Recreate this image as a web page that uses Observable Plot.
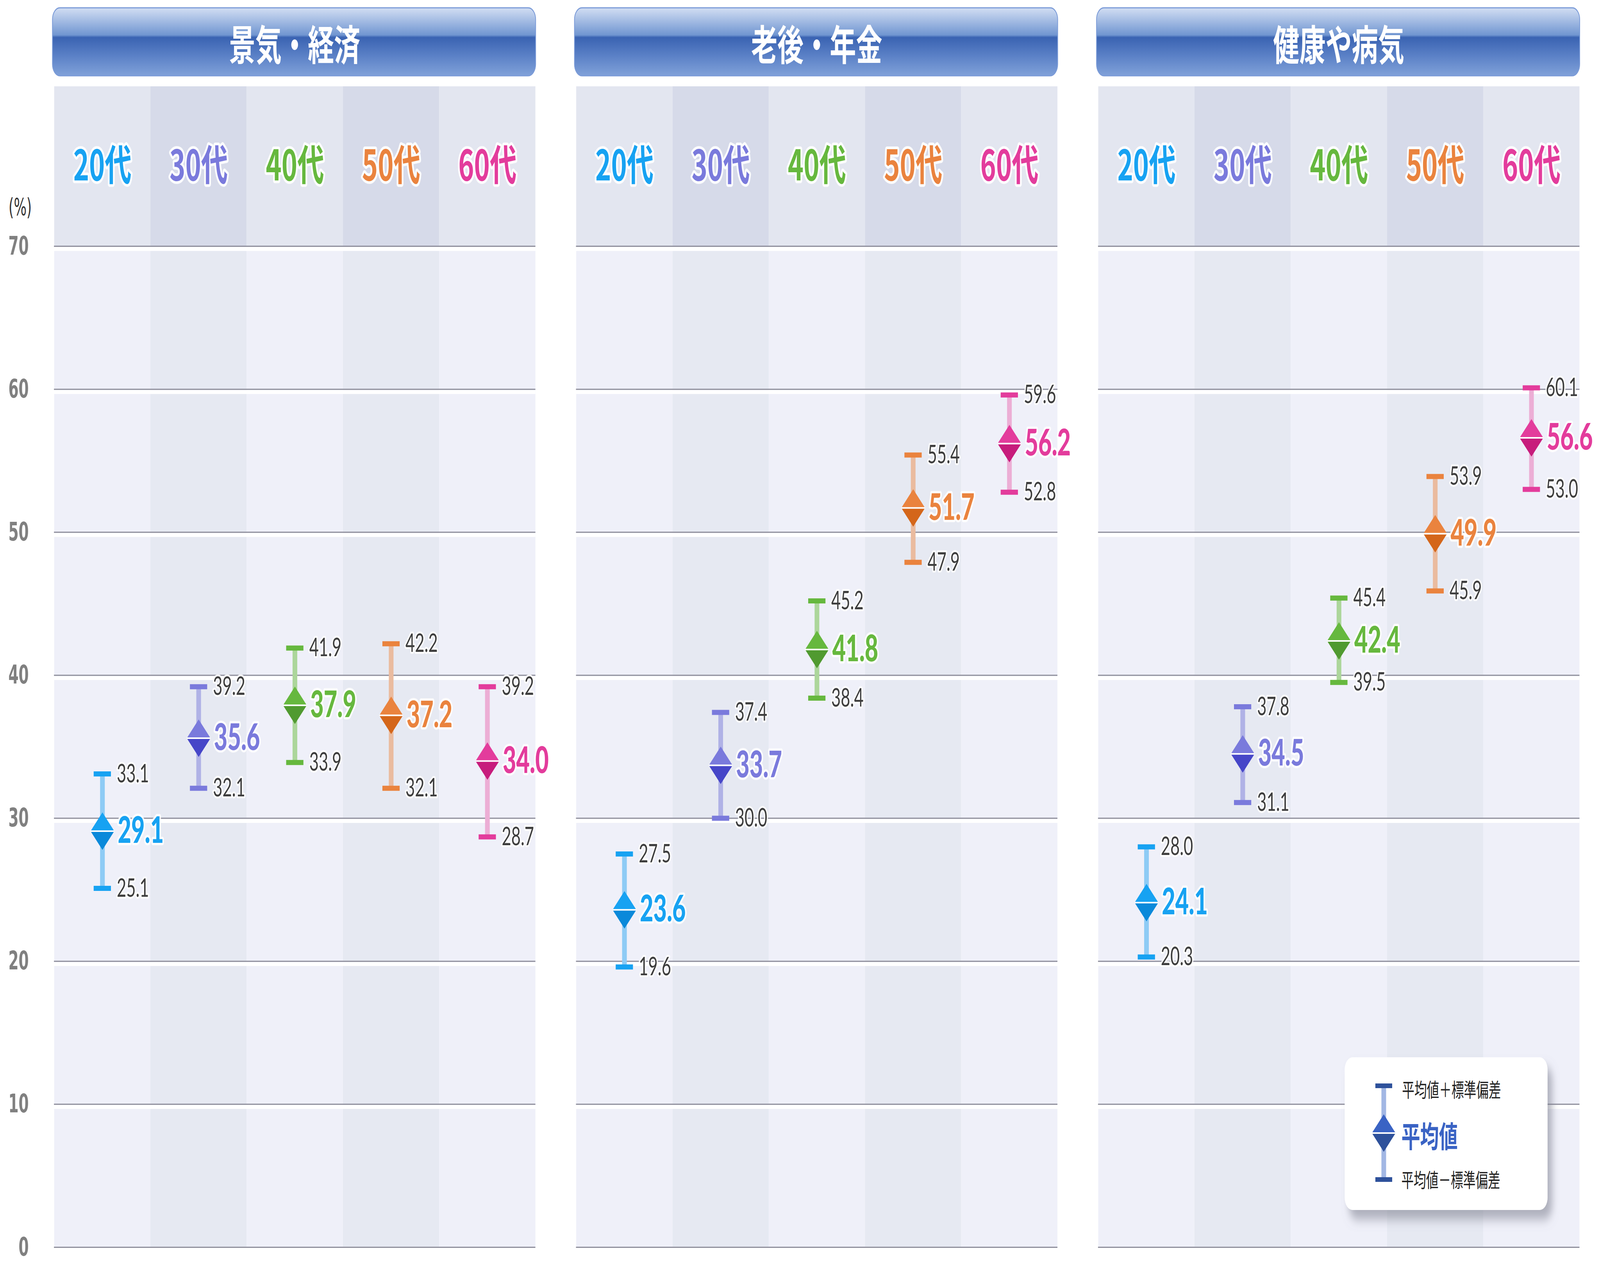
<!DOCTYPE html>
<html>
<head>
<meta charset="utf-8">
<script src="https://cdn.jsdelivr.net/npm/d3@7"></script>
<script src="https://cdn.jsdelivr.net/npm/@observablehq/plot@0.6"></script>
<style>
  html, body { margin: 0; padding: 0; background: #ffffff; overflow: hidden; }
  svg { display: block; }
</style>
</head>
<body>
<script>
// ---- data ----
const topics = ["景気・経済", "老後・年金", "健康や病気"];
const ages = ["20代", "30代", "40代", "50代", "60代"];
const yTicks = [0, 10, 20, 30, 40, 50, 60, 70];

const keizaiMean  = [29.1, 35.6, 37.9, 37.2, 34.0];
const keizaiUpper = [33.1, 39.2, 41.9, 42.2, 39.2];
const keizaiLower = [25.1, 32.1, 33.9, 32.1, 28.7];

const nenkinMean  = [23.6, 33.7, 41.8, 51.7, 56.2];
const nenkinUpper = [27.5, 37.4, 45.2, 55.4, 59.6];
const nenkinLower = [19.6, 30.0, 38.4, 47.9, 52.8];

const kenkoMean  = [24.1, 34.5, 42.4, 49.9, 56.6];
const kenkoUpper = [28.0, 37.8, 45.4, 53.9, 60.1];
const kenkoLower = [20.3, 31.1, 39.5, 45.9, 53.0];

const legendLabels = ["平均値＋標準偏差", "平均値", "平均値－標準偏差"];
const unitLabel = "(%)";

// ---- styles ----
const ageColors = ["#17a2f2", "#7a7adc", "#66b83e", "#ea833e", "#e33c9c"];
const ageDark   = ["#0a89da", "#4646c8", "#509a30", "#d4661a", "#c71c7c"];
const ageLight  = ["#8ecbf5", "#b0b2e6", "#acd69b", "#eabb9f", "#ecaed5"];

const means  = [keizaiMean, nenkinMean, kenkoMean];
const uppers = [keizaiUpper, nenkinUpper, kenkoUpper];
const lowers = [keizaiLower, nenkinLower, kenkoLower];

const rows = topics.flatMap((t, ti) => ages.map((a, i) => ({
  topic: t, age: a, i,
  mean: means[ti][i], upper: uppers[ti][i], lower: lowers[ti][i]
})));

const yTop = 81.17;       // top of the age-label band
const ageLabelY = 75.55;  // vertical position of age labels inside band
const unitLabelY = 72.7;

// custom symbols (half-diagonal = r)
const rad = size => Math.sqrt(size / Math.PI);
const upperTri = { draw(c, s) { const r = rad(s); c.moveTo(-r, 0); c.lineTo(0, -r); c.lineTo(r, 0); c.closePath(); } };
const lowerTri = { draw(c, s) { const r = rad(s); c.moveTo(-r, 0); c.lineTo(0, r); c.lineTo(r, 0); c.closePath(); } };
const midLine  = { draw(c, s) { const r = rad(s); c.moveTo(-r, 0); c.lineTo(r, 0); } };

const numFont = "Lato, 'Noto Sans', sans-serif";
const jpFont = "'Noto Sans CJK JP', 'Noto Sans', sans-serif";

const chart = Plot.plot({
  width: 6467,
  height: 3267,
  marginLeft: 217,
  marginRight: 83,
  marginTop: 221,
  marginBottom: 74,
  style: { background: "white", fontFamily: numFont },
  fx: { domain: topics, paddingInner: 0.07794, paddingOuter: 0, axis: null, label: null },
  x: { domain: ages, padding: 0, axis: null },
  y: { domain: [0, yTop], axis: null },
  color: { type: "identity" },
  marks: [
    // column backgrounds
    Plot.barY(ages, { x: d => d, y1: () => 0, y2: () => 70, fill: (d, i) => i % 2 ? "#e6e9f2" : "#eff0f9" }),
    Plot.barY(ages, { x: d => d, y1: () => 70, y2: () => yTop, fill: (d, i) => i % 2 ? "#d6dae9" : "#e3e6f0" }),
    // grid
    Plot.ruleY(yTicks, { stroke: "white", strokeWidth: 10, dy: 7 }),
    Plot.ruleY(yTicks, { stroke: "#8f8f9c", strokeWidth: 3 }),
    // error bars
    Plot.ruleX(rows, { fx: "topic", x: "age", y1: "lower", y2: "upper", stroke: d => ageLight[d.i], strokeWidth: 19 }),
    Plot.tickY(rows, { fx: "topic", x: "age", y: "upper", stroke: d => ageColors[d.i], strokeWidth: 13, insetLeft: 159.6, insetRight: 159.6 }),
    Plot.tickY(rows, { fx: "topic", x: "age", y: "lower", stroke: d => ageColors[d.i], strokeWidth: 13, insetLeft: 159.6, insetRight: 159.6 }),
    // diamonds
    Plot.dot(rows, { fx: "topic", x: "age", y: "mean", r: 48, symbol: lowerTri, fill: d => ageDark[d.i] }),
    Plot.dot(rows, { fx: "topic", x: "age", y: "mean", r: 48, symbol: upperTri, fill: d => ageColors[d.i] }),
    Plot.dot(rows, { fx: "topic", x: "age", y: "mean", r: 48, symbol: midLine, fill: "none", stroke: "white", strokeWidth: 4 }),
    // labels
    Plot.text(rows, { fx: "topic", x: "age", y: "upper", text: d => d.upper.toFixed(1), dx: 58, textAnchor: "start",
      fill: "#3d3d3d", fontSize: 66, fontFamily: numFont, stroke: "white", strokeWidth: 10, strokeOpacity: 0.85 }),
    Plot.text(rows, { fx: "topic", x: "age", y: "lower", text: d => d.lower.toFixed(1), dx: 58, textAnchor: "start",
      fill: "#3d3d3d", fontSize: 66, fontFamily: numFont, stroke: "white", strokeWidth: 10, strokeOpacity: 0.85 }),
    Plot.text(rows, { fx: "topic", x: "age", y: "mean", text: d => d.mean.toFixed(1), dx: 62, textAnchor: "start",
      fill: d => ageColors[d.i], fontSize: 94, fontWeight: 900, fontFamily: numFont, stroke: "white", strokeWidth: 12, strokeOpacity: 0.85 }),
    // age labels
    Plot.text(ages, { x: d => d, y: () => ageLabelY, text: d => d, fill: (d, i) => ageColors[i],
      fontSize: 108, fontWeight: 700, fontFamily: jpFont, stroke: "white", strokeWidth: 14, strokeOpacity: 0.9 }),
    // y axis
    Plot.axisY({ anchor: "left", facetAnchor: "left", ticks: yTicks, tickSize: 0, tickPadding: 102, label: null,
      fontSize: 66, fontWeight: 700, fontFamily: "'Liberation Sans Narrow', 'DejaVu Sans Condensed', 'Liberation Sans', sans-serif", color: "#808080" }),
    Plot.text([unitLabel], { fx: () => topics[0], y: () => unitLabelY, frameAnchor: "left", dx: -137, textAnchor: "middle", text: d => d,
      fontSize: 60, fill: "#333333", fontFamily: "'DejaVu Sans Condensed', 'Noto Sans', sans-serif" })
  ]
});

// fit the 6467×3267 drawing to the actual browser viewport
chart.setAttribute("preserveAspectRatio", "none");
chart.style.width = "100vw";
chart.style.height = "100vh";
chart.style.maxWidth = "none";
document.body.appendChild(chart);

// ---- decorations: panel headers and legend ----
const svg = d3.select(chart);
const fx = chart.scale("fx");
const bw = fx.bandwidth;
const defs = svg.insert("defs", ":first-child");

const grad = defs.append("linearGradient").attr("id", "hdrGrad").attr("x1", 0).attr("y1", 0).attr("x2", 0).attr("y2", 1);
[[0, "#d2def3"], [0.40, "#7196d1"], [0.435, "#3a63b2"], [0.7, "#5a80c6"], [1, "#80a1d9"]]
  .forEach(([o, c]) => grad.append("stop").attr("offset", o).attr("stop-color", c));

const shadow = defs.append("filter").attr("id", "legShadow").attr("x", "-20%").attr("y", "-20%").attr("width", "150%").attr("height", "160%");
shadow.append("feDropShadow").attr("dx", 18).attr("dy", 24).attr("stdDeviation", 14)
  .attr("flood-color", "#777a88").attr("flood-opacity", 0.55);

const hdr = svg.append("g");
topics.forEach(t => {
  const x0 = fx.apply(t);
  hdr.append("rect").attr("x", x0 - 6).attr("y", 20).attr("width", bw + 7).attr("height", 174)
    .attr("rx", 30).attr("ry", 30).attr("fill", "url(#hdrGrad)").attr("stroke", "#7b9bd8").attr("stroke-width", 3);
  hdr.append("text").attr("x", x0 + bw / 2).attr("y", 108).attr("text-anchor", "middle")
    .attr("dominant-baseline", "central").attr("fill", "white").attr("font-size", 106).attr("font-weight", 700)
    .attr("font-family", jpFont).text(t);
});

// legend inside third panel
const lx = fx.apply(topics[2]) + 997, ly = 2707;
const leg = svg.append("g").attr("transform", `translate(${lx},${ly})`);
leg.append("rect").attr("width", 820).attr("height", 391).attr("rx", 32).attr("fill", "white").attr("filter", "url(#legShadow)");
const mx = 158;
leg.append("line").attr("x1", mx).attr("x2", mx).attr("y1", 73).attr("y2", 313).attr("stroke", "#a2b7e4").attr("stroke-width", 19);
leg.append("line").attr("x1", mx - 34).attr("x2", mx + 34).attr("y1", 73).attr("y2", 73).attr("stroke", "#2e519b").attr("stroke-width", 12);
leg.append("line").attr("x1", mx - 34).attr("x2", mx + 34).attr("y1", 313).attr("y2", 313).attr("stroke", "#2e519b").attr("stroke-width", 12);
const dcy = 194, dr = 48;
leg.append("path").attr("d", `M${mx - dr},${dcy}L${mx},${dcy + dr}L${mx + dr},${dcy}Z`).attr("fill", "#2e519b");
leg.append("path").attr("d", `M${mx - dr},${dcy}L${mx},${dcy - dr}L${mx + dr},${dcy}Z`).attr("fill", "#3a63c4");
leg.append("line").attr("x1", mx - dr).attr("x2", mx + dr).attr("y1", dcy).attr("y2", dcy).attr("stroke", "white").attr("stroke-width", 4);
leg.append("text").attr("x", 232).attr("y", 80).attr("text-anchor", "start").attr("dominant-baseline", "central").attr("font-size", 50)
  .attr("fill", "#222").attr("font-family", jpFont).text(legendLabels[0]);
leg.append("text").attr("x", 229).attr("y", 198).attr("text-anchor", "start").attr("dominant-baseline", "central").attr("font-size", 76).attr("font-weight", 700)
  .attr("fill", "#3a63c4").attr("font-family", jpFont).text(legendLabels[1]);
leg.append("text").attr("x", 229).attr("y", 311).attr("text-anchor", "start").attr("dominant-baseline", "central").attr("font-size", 50)
  .attr("fill", "#222").attr("font-family", jpFont).text(legendLabels[2]);
</script>
</body>
</html>
